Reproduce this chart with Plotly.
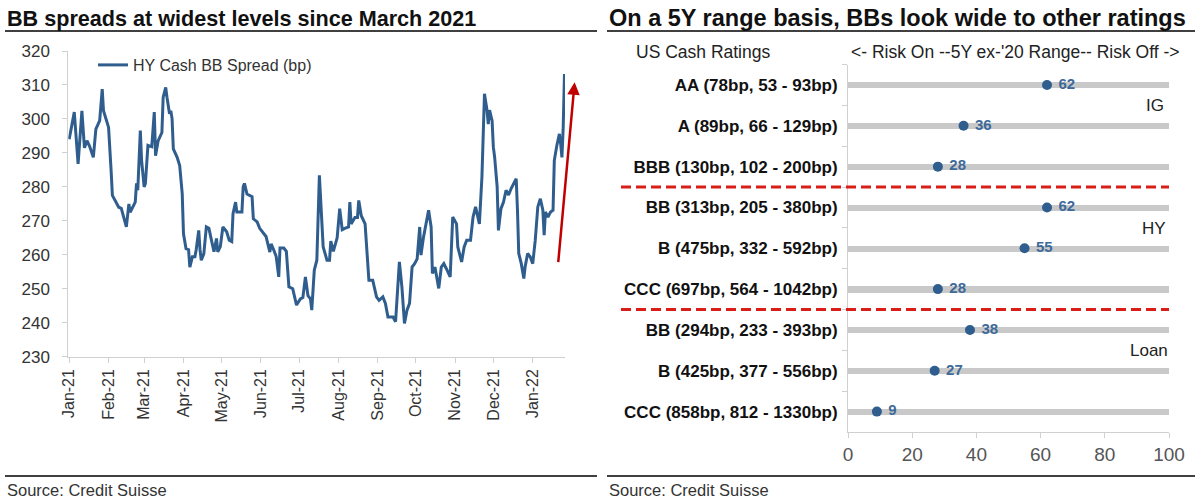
import plotly.graph_objects as go

# ---------------- Left chart data ----------------
dates = [
    "2021-01-01", "2021-01-05", "2021-01-08", "2021-01-11", "2021-01-13", "2021-01-15", "2021-01-17",
    "2021-01-20", "2021-01-22", "2021-01-25", "2021-01-27", "2021-01-28", "2021-01-30", "2021-02-01",
    "2021-02-03", "2021-02-04", "2021-02-09", "2021-02-11", "2021-02-15", "2021-02-17", "2021-02-18",
    "2021-02-22", "2021-02-23", "2021-02-24", "2021-02-26", "2021-02-27", "2021-03-01", "2021-03-02",
    "2021-03-04", "2021-03-07", "2021-03-09", "2021-03-10", "2021-03-12", "2021-03-15", "2021-03-16",
    "2021-03-18", "2021-03-19", "2021-03-21", "2021-03-22", "2021-03-23", "2021-03-24", "2021-03-27",
    "2021-03-29", "2021-03-31", "2021-04-01", "2021-04-03", "2021-04-05", "2021-04-06", "2021-04-08",
    "2021-04-10", "2021-04-11", "2021-04-13", "2021-04-14", "2021-04-15", "2021-04-17", "2021-04-19",
    "2021-04-21", "2021-04-23", "2021-04-25", "2021-04-27", "2021-04-28", "2021-04-30", "2021-05-02",
    "2021-05-05", "2021-05-07", "2021-05-09", "2021-05-10", "2021-05-12", "2021-05-13", "2021-05-15",
    "2021-05-17", "2021-05-18", "2021-05-19", "2021-05-21", "2021-05-23", "2021-05-25", "2021-05-26",
    "2021-05-29", "2021-05-31", "2021-06-03", "2021-06-05", "2021-06-08", "2021-06-09", "2021-06-11",
    "2021-06-13", "2021-06-15", "2021-06-16", "2021-06-19", "2021-06-21", "2021-06-23", "2021-06-26",
    "2021-06-29", "2021-07-02", "2021-07-04", "2021-07-06", "2021-07-08", "2021-07-10", "2021-07-11",
    "2021-07-13", "2021-07-15", "2021-07-17", "2021-07-20", "2021-07-23", "2021-07-25", "2021-07-26",
    "2021-07-28", "2021-07-31", "2021-08-02", "2021-08-04", "2021-08-06", "2021-08-09", "2021-08-10",
    "2021-08-11", "2021-08-14", "2021-08-16", "2021-08-17", "2021-08-19", "2021-08-22", "2021-08-24",
    "2021-08-25", "2021-08-28", "2021-08-31", "2021-09-02", "2021-09-05", "2021-09-07", "2021-09-09",
    "2021-09-13", "2021-09-15", "2021-09-18", "2021-09-20", "2021-09-22", "2021-09-24", "2021-09-26",
    "2021-09-28", "2021-09-30", "2021-10-02", "2021-10-04", "2021-10-05", "2021-10-07", "2021-10-09",
    "2021-10-11", "2021-10-13", "2021-10-14", "2021-10-16", "2021-10-17", "2021-10-19", "2021-10-21",
    "2021-10-23", "2021-10-25", "2021-10-28", "2021-10-30", "2021-11-02", "2021-11-03", "2021-11-06",
    "2021-11-08", "2021-11-10", "2021-11-13", "2021-11-15", "2021-11-17", "2021-11-18", "2021-11-20",
    "2021-11-22", "2021-11-24", "2021-11-26", "2021-11-27", "2021-11-28", "2021-11-30", "2021-12-01",
    "2021-12-02", "2021-12-04", "2021-12-05", "2021-12-07", "2021-12-09", "2021-12-11", "2021-12-13",
    "2021-12-15", "2021-12-19", "2021-12-20", "2021-12-21", "2021-12-23", "2021-12-25", "2021-12-26",
    "2021-12-28", "2021-12-30", "2022-01-01", "2022-01-03", "2022-01-05", "2022-01-07", "2022-01-09",
    "2022-01-10", "2022-01-11", "2022-01-13", "2022-01-15", "2022-01-17", "2022-01-18", "2022-01-20",
    "2022-01-22", "2022-01-23", "2022-01-24", "2022-01-25", "2022-01-26",
]
spread = [
    294.0, 302.0, 286.8, 302.4, 291.5, 293.6, 292.0,
    288.7, 297.0, 299.5, 308.8, 302.4, 300.0, 297.5,
    284.8, 277.5, 274.0, 273.7, 268.2, 275.0, 272.5,
    275.5, 281.0, 279.0, 296.6, 287.8, 280.0, 281.0,
    292.2, 291.8, 302.0, 289.2, 293.5, 296.0, 306.4,
    309.3, 306.4, 301.5, 302.4, 300.1, 291.2, 288.7,
    286.3, 278.0, 266.2, 261.8, 261.5, 256.4, 259.4,
    259.4, 261.5, 267.2, 261.5, 258.4, 260.3, 268.2,
    267.8, 264.3, 260.9, 264.8, 260.9, 262.4, 268.2,
    266.8, 264.3, 263.9, 272.1, 275.5, 272.6, 272.6,
    272.6, 280.0, 281.0, 277.9, 277.6, 277.1, 270.6,
    269.7, 267.8, 266.4, 265.4, 260.8, 263.2, 261.5,
    259.5, 253.5, 262.0, 262.0, 261.0, 250.6, 250.0,
    245.2, 247.0, 247.4, 253.5, 248.0, 247.0, 243.7,
    255.5, 258.4, 283.4, 262.3, 258.4, 258.4, 264.0,
    261.0, 265.0, 273.6, 267.4, 267.8, 268.2, 275.5,
    269.1, 271.0, 271.0, 276.0, 271.5, 269.1, 257.4,
    252.5, 252.5, 247.6, 246.6, 247.6, 245.7, 241.7,
    241.7, 240.3, 257.9, 250.5, 239.8, 243.7, 245.7,
    256.4, 257.4, 258.8, 268.2, 259.9, 265.2, 269.1,
    273.1, 268.2, 254.5, 256.4, 254.5, 250.1, 256.4,
    257.4, 255.9, 253.5, 271.1, 269.1, 262.3, 257.9,
    262.3, 264.3, 264.3, 271.1, 274.1, 272.2, 269.1,
    282.9, 307.4, 302.6, 298.5, 302.6, 299.5, 291.7,
    288.8, 280.0, 267.2, 273.6, 275.5, 279.0, 277.6,
    279.5, 282.4, 273.1, 260.4, 257.4, 253.0, 256.4,
    260.4, 259.4, 257.4, 264.3, 274.1, 276.5, 273.1,
    265.8, 272.6, 271.1, 272.6, 273.1, 287.8, 292.2,
    295.6, 292.7, 288.7, 297.5, 313.2,
]
series_name = "HY Cash BB Spread (bp)"
left_title = "BB spreads at widest levels since March 2021"

# ---------------- Right chart data ----------------
ratings = [
    "AA (78bp, 53 - 93bp)",
    "A (89bp, 66 - 129bp)",
    "BBB (130bp, 102 - 200bp)",
    "BB (313bp, 205 - 380bp)",
    "B (475bp, 332 - 592bp)",
    "CCC (697bp, 564 - 1042bp)",
    "BB (294bp, 233 - 393bp)",
    "B (425bp, 377 - 556bp)",
    "CCC (858bp, 812 - 1330bp)",
]
percentile = [62, 36, 28, 62, 55, 28, 38, 27, 9]
range_max = [100] * 9
groups = ["IG", "HY", "Loan"]
right_title = "On a 5Y range basis, BBs look wide to other ratings"
header_left = "US Cash Ratings"
header_right = "<- Risk On --5Y ex-'20 Range-- Risk Off ->"
source = "Source: Credit Suisse"

W, H = 1200, 503
FONT = "Liberation Sans, Arial, sans-serif"
BLUE = "#2f5e8e"
AXIS = "#d0d0d0"


def px(x):
    return x / W


def py(y):
    return 1 - y / H


fig = go.Figure()

fig.add_trace(go.Scatter(
    x=dates, y=spread, mode="lines", name=series_name,
    line=dict(color=BLUE, width=3), xaxis="x", yaxis="y",
))

fig.add_trace(go.Bar(
    x=range_max, y=ratings, orientation="h", base=0, width=0.15,
    marker=dict(color="#c9c9c9", line=dict(width=0)),
    xaxis="x2", yaxis="y2", showlegend=False, hoverinfo="skip",
))
fig.add_trace(go.Scatter(
    x=percentile, y=ratings, mode="markers+text",
    text=[" " + str(v) for v in percentile], textposition="middle right",
    textfont=dict(family=FONT, size=15, color="#3d6a99", weight="bold"),
    marker=dict(color=BLUE, size=10),
    xaxis="x2", yaxis="y2", showlegend=False,
))

annotations = [
    dict(text=left_title, x=px(5), y=py(18), xref="paper", yref="paper",
         xanchor="left", yanchor="middle", showarrow=False,
         font=dict(family=FONT, size=21.6, color="#111111", weight="bold")),
    dict(text=right_title, x=px(607), y=py(18), xref="paper", yref="paper",
         xanchor="left", yanchor="middle", showarrow=False,
         font=dict(family=FONT, size=23.5, color="#111111", weight="bold")),
    dict(text=source, x=px(5), y=py(490), xref="paper", yref="paper",
         xanchor="left", yanchor="middle", showarrow=False,
         font=dict(family=FONT, size=16.5, color="#333333")),
    dict(text=source, x=px(607), y=py(490), xref="paper", yref="paper",
         xanchor="left", yanchor="middle", showarrow=False,
         font=dict(family=FONT, size=16.5, color="#333333")),
    dict(text=header_left, x=px(703), y=py(52), xref="paper", yref="paper",
         xanchor="center", yanchor="middle", showarrow=False,
         font=dict(family=FONT, size=17.5, color="#222222")),
    dict(text=header_right, x=px(1015), y=py(52), xref="paper", yref="paper",
         xanchor="center", yanchor="middle", showarrow=False,
         font=dict(family=FONT, size=17.5, color="#222222")),
    # red arrow
    dict(x="2022-02-03", y=310.8, ax="2022-01-21", ay=257.4,
         xref="x", yref="y", axref="x", ayref="y",
         showarrow=True, arrowhead=2, arrowsize=1, arrowwidth=2.5,
         arrowcolor="#c00000", text=""),
]
for g, yy, xr in zip(groups, [105, 228, 350], [1166, 1168, 1170]):
    annotations.append(dict(text=g, x=px(xr), y=py(yy), xref="paper", yref="paper",
                            xanchor="right", yanchor="middle", showarrow=False,
                            font=dict(family=FONT, size=17, color="#222222")))

shapes = []
for y0 in [31, 476]:
    for x0, x1 in [(5, 597), (607, 1195)]:
        shapes.append(dict(type="line", xref="paper", yref="paper",
                           x0=px(x0), x1=px(x1), y0=py(y0), y1=py(y0),
                           line=dict(color="#000000", width=1.5)))
for yb in [2.5, 5.5]:
    shapes.append(dict(type="line", xref="paper", yref="y2",
                       x0=px(621), x1=px(1169), y0=yb, y1=yb,
                       line=dict(color="#d91e18", width=3, dash="10px,5px")))

fig.update_layout(
    width=W, height=H,
    margin=dict(l=0, r=0, t=0, b=0, autoexpand=False),
    paper_bgcolor="white", plot_bgcolor="white",
    font=dict(family=FONT, color="#333333"),
    showlegend=True,
    legend=dict(x=px(93), y=py(48), xanchor="left", yanchor="top",
                bgcolor="rgba(0,0,0,0)", font=dict(family=FONT, size=16, color="#333333"),
                itemwidth=30),
    xaxis=dict(
        domain=[px(68.3), px(565)], anchor="y", type="date", automargin=False,
        range=["2020-12-31 07:00", "2022-01-26 10:00"],
        tick0="2021-01-01", dtick="M1", tickformat="%b-%y", tickangle=-90,
        showline=True, linecolor=AXIS, linewidth=1, ticks="outside", ticklen=5,
        tickcolor=AXIS, showgrid=False, zeroline=False,
        tickfont=dict(family=FONT, size=16, color="#333333"),
    ),
    yaxis=dict(
        domain=[py(356.7), py(51)], anchor="x", range=[230, 320], dtick=10, automargin=False,
        showline=True, linecolor=AXIS, linewidth=1, ticks="outside", ticklen=5,
        tickcolor=AXIS, showgrid=False, zeroline=False, ticklabelstandoff=9,
        tickfont=dict(family=FONT, size=17, color="#333333"),
    ),
    xaxis2=dict(
        domain=[px(848), px(1169)], anchor="y2", range=[0, 100], dtick=20, automargin=False,
        showline=True, linecolor=AXIS, linewidth=1, ticks="outside", ticklen=5,
        tickcolor=AXIS, showgrid=False, zeroline=False,
        tickfont=dict(family=FONT, size=19, color="#555555"),
    ),
    yaxis2=dict(
        domain=[py(432), py(64.6)], anchor="x2", type="category", automargin=False,
        categoryorder="array", categoryarray=ratings, range=[8.5, -0.5],
        showline=True, linecolor=AXIS, linewidth=1, ticks="outside", ticklen=5,
        tickcolor=AXIS, tickson="boundaries", showgrid=False, zeroline=False,
        ticklabelstandoff=6,
        tickfont=dict(family=FONT, size=17, color="#111111", weight="bold"),
    ),
    annotations=annotations,
    shapes=shapes,
    bargap=0,
)

fig.write_html("out.html")
